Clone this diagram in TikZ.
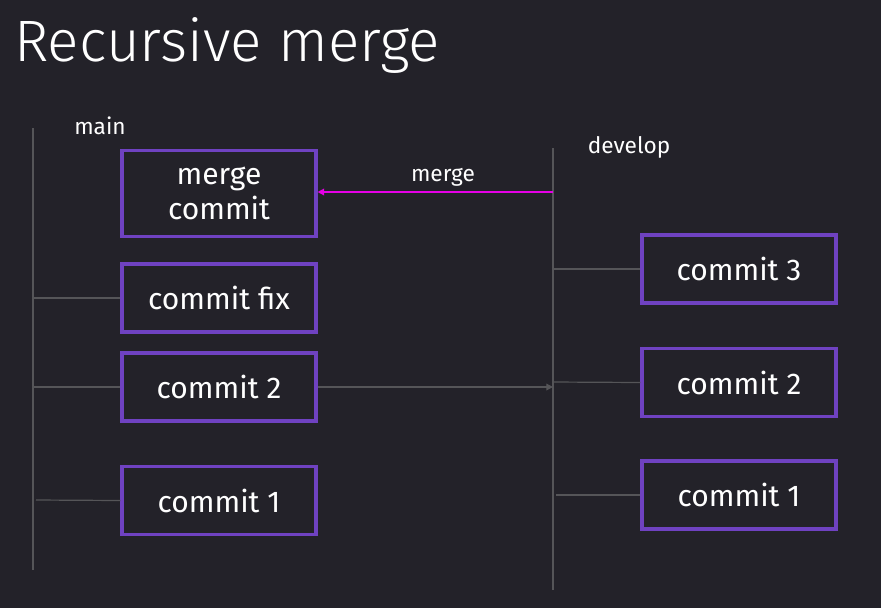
\documentclass[tikz,border=0pt]{standalone}
\usepackage{fontspec}
\setmainfont{Fira Sans}
\newfontfamily\titlefont{Fira Sans Light}
\usetikzlibrary{arrows.meta}
\definecolor{bg}{RGB}{35,34,41}
\definecolor{boxc}{RGB}{111,66,193}
\definecolor{linec}{RGB}{85,85,88}
\definecolor{mergec}{RGB}{230,0,230}
\begin{document}
\begin{tikzpicture}[x=0.75pt,y=-0.75pt,
  commitbox/.style={draw=boxc,line width=2.3pt,fill=bg,text=white,minimum width=145.5pt,minimum height=51pt,inner sep=0pt,align=center,font=\fontsize{22.5}{23}\selectfont},
  branchline/.style={draw=linec,line width=0.9pt},
  link/.style={draw=linec,line width=0.9pt},
  lbl/.style={text=white,font=\fontsize{17}{18}\selectfont,inner sep=0pt}]
\fill[bg] (0,0) rectangle (881,608);
\useasboundingbox (0,0) rectangle (881,608);
\node[text=white,anchor=west,inner sep=0pt,font=\titlefont\fontsize{43.8}{45}\selectfont] (title) at (14,45) {Recursive merge};
% branch lines
\coordinate (mainTop) at (33,128);
\coordinate (mainBot) at (33,570);
\coordinate (devTop) at (553,148);
\coordinate (devBot) at (553,590);
\draw[branchline] (mainTop) -- (mainBot);
\draw[branchline] (devTop) -- (devBot);
\node[lbl] (mainlbl) at (100,126) {main};
\node[lbl] (devlbl) at (629,147) {develop};
% main commits
\node[commitbox,minimum height=64.5pt] (merge) at (219,193.5) {merge\\[3pt]commit};
\node[commitbox] (mfix) at (219,298) {commit fix};
\node[commitbox] (m2) at (219,387) {commit 2};
\node[commitbox] (m1) at (219,500.5) {commit 1};
% develop commits
\node[commitbox] (d3) at (739,269) {commit 3};
\node[commitbox] (d2) at (739,382.5) {commit 2};
\node[commitbox] (d1) at (739,495) {commit 1};
% attachment points
\coordinate (pfix) at (33,298);
\coordinate (p2) at (33,387);
\coordinate (p1) at (36,500);
\coordinate (q3) at (553,269);
\coordinate (q2) at (553,382);
\coordinate (q1) at (556,495);
\coordinate (q2in) at (553,387);
\coordinate (qmerge) at (553,192);
\draw[link] (pfix) -- (mfix.west);
\draw[link] (p2) -- (m2.west);
\draw[link] (p1) -- (m1.west);
\draw[link] (q3) -- (d3.west);
\draw[link] (q2) -- (d2.west);
\draw[link] (q1) -- (d1.west);
\draw[link,-{Triangle[length=5pt,width=5pt]}] (m2.east) -- (q2in);
\draw[draw=mergec,line width=1pt,-{Triangle[length=5pt,width=5pt]}] (qmerge) -- (merge.east |- qmerge);
\node[lbl] (mergelbl) at (443,177) {merge};
\end{tikzpicture}
\end{document}
